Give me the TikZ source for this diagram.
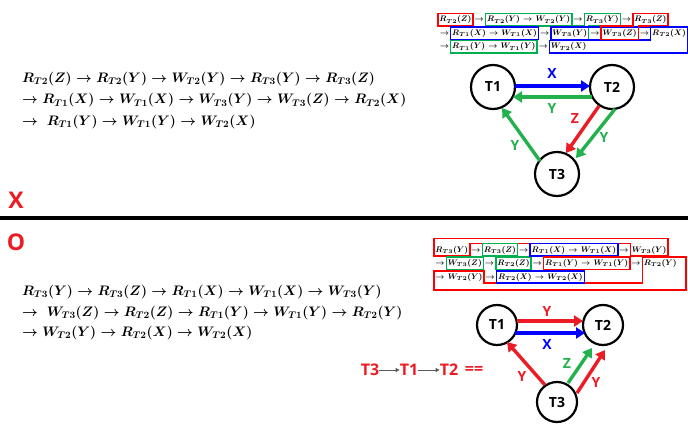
\documentclass[tikz,border=0pt]{standalone}
\usepackage{fix-cm}
\usepackage{fontspec}
\newfontfamily\labf{Open Sans}
\usetikzlibrary{arrows.meta,calc,positioning}
\definecolor{cR}{RGB}{237,28,36}
\definecolor{cB}{RGB}{0,0,255}
\definecolor{cG}{RGB}{34,177,76}
\definecolor{bR}{RGB}{255,0,0}
\definecolor{bG}{RGB}{0,176,80}
\definecolor{bB}{RGB}{0,0,255}
\newlength\wbig
\newlength\wsm
\begin{document}
\begin{tikzpicture}[x=1pt,y=-1pt]
\settowidth\wbig{\fontsize{15.5}{18}\selectfont\boldmath$\rightarrow R_{T1}(X)\rightarrow W_{T1}(X)\rightarrow W_{T3}(Y)\rightarrow W_{T3}(Z)\rightarrow R_{T2}(X)$}
\settowidth\wsm{\fontsize{9.3}{11}\selectfont\boldmath$R_{T2}(Z)\rightarrow R_{T2}(Y)\rightarrow W_{T2}(Y)\rightarrow R_{T3}(Y)\rightarrow R_{T3}(Z)$}
\pgfmathsetmacro\bigfs{15.5*383/\wbig}
\pgfmathsetmacro\smfs{9.3*215/\wsm}
\pgfmathsetmacro\smht{0.75*\smfs}
\pgfmathsetmacro\smdp{0.25*\smfs}
\tikzset{
  big/.style={inner sep=0pt, anchor=base west, font=\fontsize{\bigfs}{\bigfs}\selectfont\boldmath},
  tm/.style={inner xsep=1.3pt, inner ysep=2pt, text height=\smht pt, text depth=\smdp pt, font=\fontsize{\smfs}{\smfs}\selectfont\boldmath},
  ar/.style={tm, inner xsep=1.4pt},
  rbox/.style={draw=bR, line width=1.5pt, line join=miter},
  gbox/.style={draw=bG, line width=1.5pt, line join=miter},
  bbox/.style={draw=bB, line width=1.5pt, line join=miter},
  circ/.style={circle, draw, line width=2.2pt, minimum size=44pt, inner sep=0pt, font=\labf\bfseries\fontsize{14}{14}\selectfont},
  circs/.style={circ, minimum size=40pt},
  lab/.style={inner sep=0pt, font=\labf\bfseries\fontsize{14}{14}\selectfont},
  big mark/.style={inner sep=0pt, text=cR, font=\labf\bfseries\fontsize{23}{23}\selectfont},
  arr/.style={line width=3.4pt, -{Triangle[length=9pt,width=11pt]}},
  ord/.style={inner sep=0pt, text=cR, font=\labf\bfseries\fontsize{16}{16}\selectfont},
}
\fill[white] (0,0) rectangle (688,425);
\useasboundingbox (0,0) rectangle (688,425);

% ---------- top left text
\node[big] (t1) at (22,82.5) {$R_{T2}(Z) \rightarrow R_{T2}(Y) \rightarrow W_{T2}(Y) \rightarrow R_{T3}(Y) \rightarrow R_{T3}(Z)$};
\node[big] (t2) at (22,104) {$\rightarrow R_{T1}(X) \rightarrow W_{T1}(X) \rightarrow W_{T3}(Y) \rightarrow W_{T3}(Z) \rightarrow R_{T2}(X)$};
\node[big] (t3) at (22,125.5) {$\rightarrow\; R_{T1}(Y) \rightarrow W_{T1}(Y) \rightarrow W_{T2}(X)$};

% ---------- bottom left text
\node[big] (u1) at (22,295.5) {$R_{T3}(Y) \rightarrow R_{T3}(Z) \rightarrow R_{T1}(X) \rightarrow W_{T1}(X) \rightarrow W_{T3}(Y)$};
\node[big] (u2) at (22,316) {$\rightarrow\; W_{T3}(Z) \rightarrow R_{T2}(Z) \rightarrow R_{T1}(Y) \rightarrow W_{T1}(Y) \rightarrow R_{T2}(Y)$};
\node[big] (u3) at (22,336.5) {$\rightarrow W_{T2}(Y) \rightarrow R_{T2}(X) \rightarrow W_{T2}(X)$};

% ---------- marks and divider
\node[big mark] (mx) at (16,200) {X};
\node[big mark] (mo) at (16,242) {O};
\draw[line width=3.5pt] (0,218) -- (688,218);

% ---------- top right small sequence
\node[tm, anchor=base west] (a1) at (437.8,22) {$R_{T2}(Z)$};
\node[ar, right=0pt of a1] (a2) {$\rightarrow$};
\node[tm, right=0pt of a2] (a3) {$R_{T2}(Y)$};
\node[ar, right=0pt of a3] (a4) {$\rightarrow$};
\node[tm, right=0pt of a4] (a5) {$W_{T2}(Y)$};
\node[ar, right=0pt of a5] (a6) {$\rightarrow$};
\node[tm, right=0pt of a6] (a7) {$R_{T3}(Y)$};
\node[ar, right=0pt of a7] (a8) {$\rightarrow$};
\node[tm, right=0pt of a8] (a9) {$R_{T3}(Z)$};

\node[ar, anchor=base west] (b1) at (438.2,35.5) {$\rightarrow$};
\node[tm, right=0pt of b1] (b2) {$R_{T1}(X)$};
\node[ar, right=0pt of b2] (b3) {$\rightarrow$};
\node[tm, right=0pt of b3] (b4) {$W_{T1}(X)$};
\node[ar, right=0pt of b4] (b5) {$\rightarrow$};
\node[tm, right=0pt of b5] (b6) {$W_{T3}(Y)$};
\node[ar, right=0pt of b6] (b7) {$\rightarrow$};
\node[tm, right=0pt of b7] (b8) {$W_{T3}(Z)$};
\node[ar, right=0pt of b8] (b9) {$\rightarrow$};
\node[tm, right=0pt of b9] (b10) {$R_{T2}(X)$};

\node[ar, anchor=base west] (c1) at (438.2,49) {$\rightarrow$};
\node[tm, right=0pt of c1] (c2) {$R_{T1}(Y)$};
\node[ar, right=0pt of c2] (c3) {$\rightarrow$};
\node[tm, right=0pt of c3] (c4) {$W_{T1}(Y)$};
\node[ar, right=0pt of c4] (c5) {$\rightarrow$};
\node[tm, right=0pt of c5] (c6) {$W_{T2}(X)$};

\draw[rbox] (a1.north west) rectangle (a1.south east);
\draw[gbox] (a3.north west) rectangle (a5.south east);
\draw[gbox] (a7.north west) -- (a7.north east) -- (a7.south east) -- (b6.east |- a7.south) -- (b6.south east) -- (b6.south west) -- (b6.west |- a7.south) -- (a7.south west) -- cycle;
\draw[bbox] (b2.north west) rectangle (b4.south east);
\draw[bbox] (b6.north west) rectangle (b9.south east);
\draw[rbox] (a9.north west) -- (a9.north east) -- (a9.south east) -- (b8.east |- a9.south) -- (b8.south east) -- (b8.south west) -- (b8.west |- a9.south) -- (a9.south west) -- cycle;
\draw[bbox] (b10.north west) -- (b10.north east) -- (b10.east |- c6.south) -- (c6.south west) -- (c6.north west) -- (b10.west |- c6.north) -- cycle;
\draw[gbox] (c2.north west) rectangle (c4.south east);

% ---------- bottom right small sequence
\node[tm, anchor=base west] (d1) at (433.8,252) {$R_{T3}(Y)$};
\node[ar, right=0pt of d1] (d2) {$\rightarrow$};
\node[tm, right=0pt of d2] (d3) {$R_{T3}(Z)$};
\node[ar, right=0pt of d3] (d4) {$\rightarrow$};
\node[tm, right=0pt of d4] (d5) {$R_{T1}(X)$};
\node[ar, right=0pt of d5] (d6) {$\rightarrow$};
\node[tm, right=0pt of d6] (d7) {$W_{T1}(X)$};
\node[ar, right=0pt of d7] (d8) {$\rightarrow$};
\node[tm, right=0pt of d8] (d9) {$W_{T3}(Y)$};

\node[ar, anchor=base west] (e1) at (433.8,265.5) {$\rightarrow$};
\node[tm, right=0pt of e1] (e2) {$W_{T3}(Z)$};
\node[ar, right=0pt of e2] (e3) {$\rightarrow$};
\node[tm, right=0pt of e3] (e4) {$R_{T2}(Z)$};
\node[ar, right=0pt of e4] (e5) {$\rightarrow$};
\node[tm, right=0pt of e5] (e6) {$R_{T1}(Y)$};
\node[ar, right=0pt of e6] (e7) {$\rightarrow$};
\node[tm, right=0pt of e7] (e8) {$W_{T1}(Y)$};
\node[ar, right=0pt of e8] (e9) {$\rightarrow$};
\node[tm, right=0pt of e9] (e10) {$R_{T2}(Y)$};

\node[ar, anchor=base west] (f1) at (433.8,279) {$\rightarrow$};
\node[tm, right=0pt of f1] (f2) {$W_{T2}(Y)$};
\node[ar, right=0pt of f2] (f3) {$\rightarrow$};
\node[tm, right=0pt of f3] (f4) {$R_{T2}(X)$};
\node[ar, right=0pt of f4] (f5) {$\rightarrow$};
\node[tm, right=0pt of f5] (f6) {$W_{T2}(X)$};

\coordinate (Atop) at ($(d1.north west)+(0,-5)$);
\draw[rbox] (Atop) -- (Atop -| d9.east) -- (d9.south east) -- (d9.south west) -- (d9.north west) -- (d1.north east) -- (d1.south east) -- (d1.south west) -- cycle;
\draw[gbox] (d3.north west) rectangle (d3.south east);
\draw[gbox] (e2.north west) rectangle (e2.south east);
\draw[gbox] (e4.north west) rectangle (e4.south east);
\draw[bbox] (d5.north west) rectangle (d7.south east);
\draw[rbox] (e6.north west) rectangle (e8.south east);
\coordinate (Ebot) at ($(f1.south west)+(0,7)$);
\coordinate (ER) at (686,0);
\draw[rbox] (f1.north west) -- (f2.north east) -- (f2.south east) -- (e10.west |- f2.south) -- (e10.north west) -- (ER |- e10.north) -- (ER |- Ebot) -- (Ebot) -- cycle;
\draw[bbox] (f4.north west) rectangle (f6.south east);

% ---------- top graph
\node[circ] (T1) at (493,87) {T1};
\node[circ] (T2) at (612,87) {T2};
\node[circ] (T3) at (557,174) {T3};
\draw[arr, cB] ($(T1.center)+(22,-1)$) -- ($(T2.center)+(-22,-1)$);
\draw[arr, cG] ($(T2.center)+(-20,10)$) -- ($(T1.center)+(20,10)$);
\draw[arr, cR] ($(T2.center)+(-13,19)$) -- ($(T3.center)+(9,-21)$);
\draw[arr, cG] ($(T2.center)+(3,22)$) -- ($(T3.center)+(19,-16)$);
\draw[arr, cG] ($(T3.center)+(-17,-13)$) -- ($(T1.center)+(9,21)$);
\node[lab, text=cB] (lx) at (552,74) {X};
\node[lab, text=cG] (ly1) at (552,109) {Y};
\node[lab, text=cR] (lz) at (575,119) {Z};
\node[lab, text=cG] (ly2) at (604,138) {Y};
\node[lab, text=cG] (ly3) at (515,146) {Y};

% ---------- bottom graph
\node[circs] (B1) at (497,325) {T1};
\node[circs] (B2) at (603,325) {T2};
\node[circs] (B3) at (557,402) {T3};
\draw[arr, cR] ($(B1.center)+(20,-4)$) -- ($(B2.center)+(-20,-4)$);
\draw[arr, cB] ($(B1.center)+(18,8)$) -- ($(B2.center)+(-18,8)$);
\draw[arr, cG] ($(B3.center)+(11,-19)$) -- ($(B2.center)+(-11,23)$);
\draw[arr, cR] ($(B3.center)+(20,-9)$) -- ($(B2.center)+(2,25)$);
\draw[arr, cR] ($(B3.center)+(-12,-17)$) -- ($(B1.center)+(10,17)$);
\node[lab, text=cR] (my1) at (547,312) {Y};
\node[lab, text=cB] (mx1) at (547,345) {X};
\node[lab, text=cG] (mz) at (567,364) {Z};
\node[lab, text=cR] (my2) at (596,383) {Y};
\node[lab, text=cR] (my3) at (522,376) {Y};

% ---------- order text
\node[ord] (s1) at (370,370) {T3};
\node[ord] (s2) at (409,370) {T1};
\node[ord] (s3) at (449,370) {T2};
\node[ord] (s4) at (474,370) {==};
\draw[gray!70!black, line width=1pt, -{Triangle[length=4pt,width=4pt]}] (s1.east) -- (s2.west);
\draw[gray!70!black, line width=1pt, -{Triangle[length=4pt,width=4pt]}] (s2.east) -- (s3.west);
\end{tikzpicture}
\end{document}
